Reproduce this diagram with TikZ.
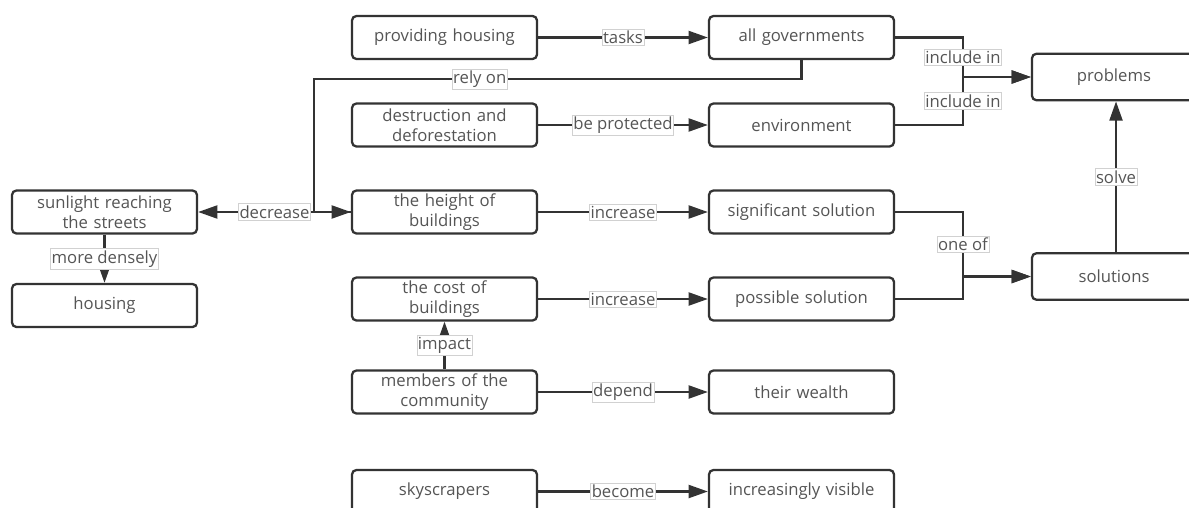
\documentclass[tikz,border=0pt]{standalone}
\usepackage{fontspec}
\setmainfont{Open Sans}
\usetikzlibrary{positioning,arrows.meta,calc}
\definecolor{LineGrey}{RGB}{51,51,51}
\definecolor{TextGrey}{RGB}{85,85,85}

\begin{document}
\begin{tikzpicture}[
  x=0.02cm, y=-0.02cm,
  font=\fontsize{9.5}{11.3}\selectfont,
  concept/.style={draw=LineGrey, line width=1.3pt, rounded corners=2.5pt, align=center,
    text=TextGrey, fill=white, minimum width=3.7cm, minimum height=0.86cm,
    inner sep=1pt, text width=3.4cm},
  wide/.style={concept, minimum width=3.28cm, minimum height=0.93cm, text width=2.9cm},
  arr/.style={-{Triangle[length=11pt, width=7.4pt]}, draw=LineGrey, line width=1.3pt},
  lbl/.style={draw=black!18, line width=0.4pt, fill=white, text=TextGrey,
    inner xsep=0.6pt, inner ysep=1pt},
]
\useasboundingbox (0,0) rectangle (1189,507);
\clip (0,0) rectangle (1189,507);

\node[concept] (prov)   at (444.5,37.5) {providing housing};
\node[concept] (gov)    at (801.5,37.5) {all governments};
\node[concept] (dest)   at (444.5,125)  {destruction and\\deforestation};
\node[concept] (env)    at (801.5,125)  {environment};
\node[wide]    (prob)   at (1114,77)    {problems};

\node[concept] (sun)    at (104.5,212)  {sunlight reaching\\the streets};
\node[concept] (house)  at (104.5,305.5) {housing};
\node[concept] (height) at (444.5,212)  {the height of\\buildings};
\node[concept] (sig)    at (801.5,212)  {significant solution};
\node[wide]    (sol)    at (1114,276.5) {solutions};

\node[concept] (cost)   at (444.5,299)  {the cost of\\buildings};
\node[concept] (poss)   at (801.5,299)  {possible solution};
\node[concept] (memb)   at (444.5,392)  {members of the\\community};
\node[concept] (wealth) at (801.5,392)  {their wealth};
\node[concept] (sky)    at (444.5,491.5) {skyscrapers};
\node[concept] (vis)    at (801.5,491.5) {increasingly visible};

% junctions
\coordinate (relyx) at (314,79);
\coordinate (inclx) at (963,77);
\coordinate (onex)  at (963,276.5);

\draw[arr] (prov) -- (gov) node[lbl, midway] {tasks};
\draw[arr] (dest) -- (env) node[lbl, midway] {be protected};
\draw[arr] (height) -- (sig) node[lbl, midway] {increase};
\draw[arr] (cost) -- (poss) node[lbl, midway] {increase};
\draw[arr] (memb) -- (wealth) node[lbl, midway] {depend};
\draw[arr] (sky) -- (vis) node[lbl, midway] {become};

\draw[arr] (gov.south) |- node[lbl, pos=0.83] {rely on} (relyx)
  -- (relyx|-height.west) -- (height.west);
\draw[arr] (height.west) -- (sun.east) node[lbl, midway] {decrease};
\draw[arr] (sun) -- (house) node[lbl, midway] {more densely};
\draw[arr] (memb) -- (cost) node[lbl, midway] {impact};

\draw[arr] (gov.east) -| node[lbl, pos=0.75] {include in} (inclx) -- (prob.west);
\draw[arr] (env.east) -| node[lbl, pos=0.75] {include in} (inclx) -- (prob.west);
\draw[arr] (sig.east) -| node[lbl, pos=0.75] {one of} (onex) -- (sol.west);
\draw[arr] (poss.east) -| (onex) -- (sol.west);
\draw[arr] (sol.north-|1116,0) -- (prob.south-|1116,0) node[lbl, midway] {solve};
\end{tikzpicture}
\end{document}
